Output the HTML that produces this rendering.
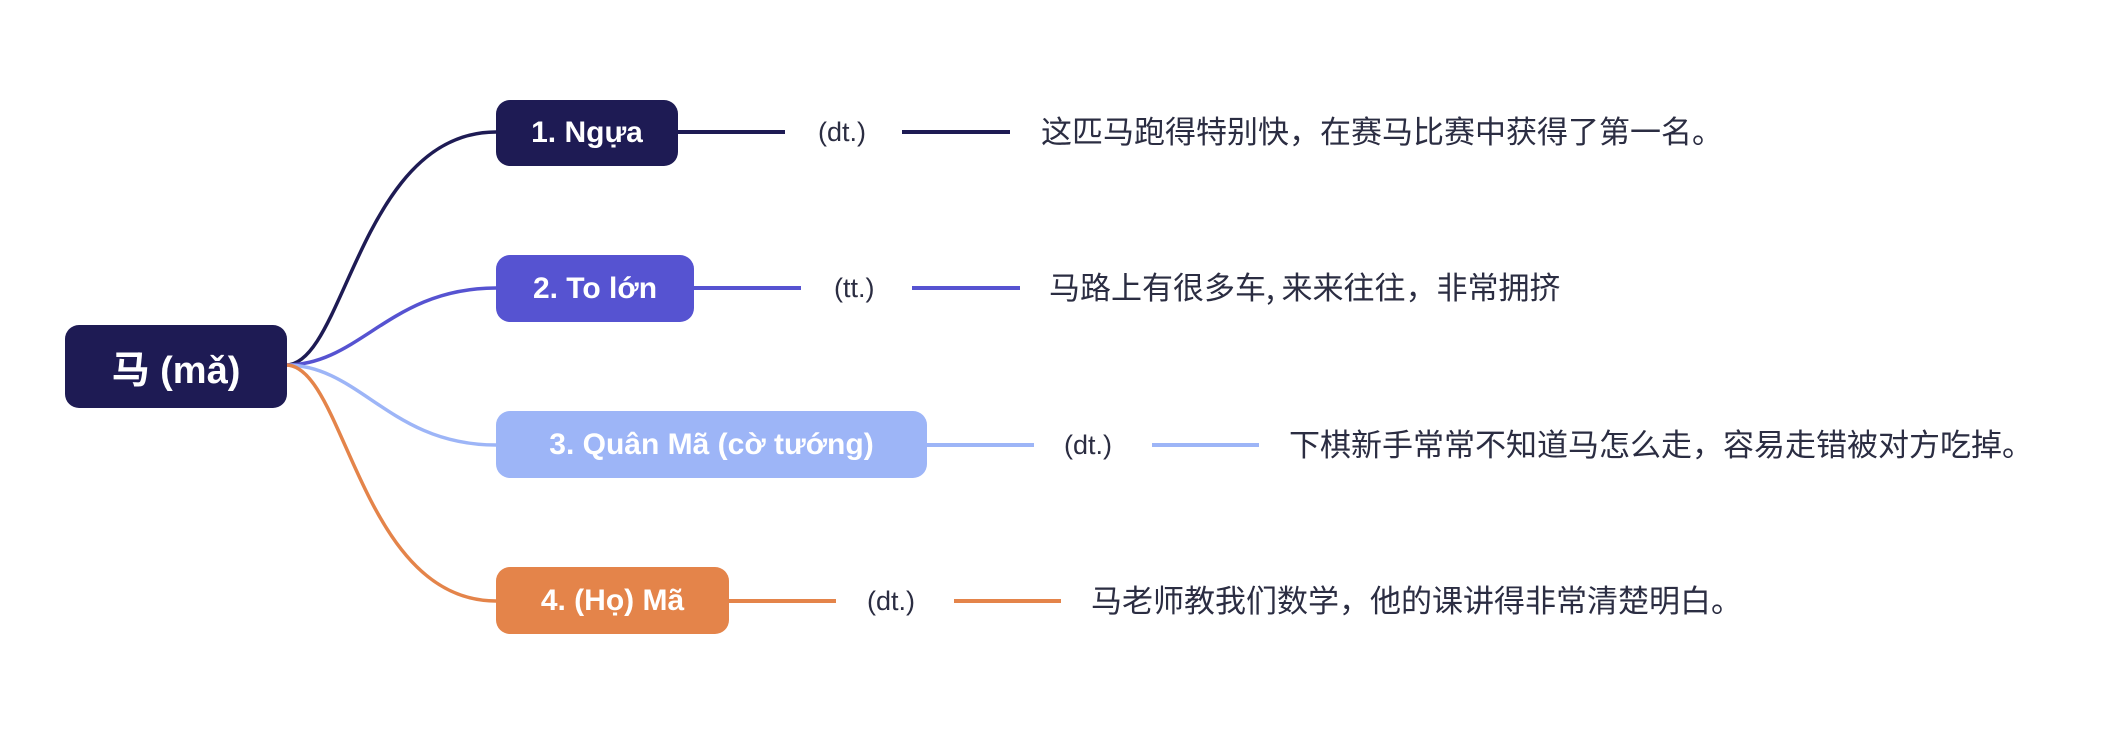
<!DOCTYPE html>
<html><head><meta charset="utf-8"><style>
html,body{margin:0;padding:0;background:#fff;width:2112px;height:745px;overflow:hidden}
.n{position:absolute;border-radius:14px;color:#fff;font-family:"Liberation Sans","Noto Sans CJK SC",sans-serif;font-weight:bold;display:flex;align-items:center;justify-content:center;box-sizing:border-box}
.t{position:absolute;font-family:"Liberation Sans","Noto Sans CJK SC",sans-serif;color:#2b2d42;white-space:nowrap;line-height:1}
.c{font-size:31px;font-family:"Noto Sans CJK SC",sans-serif}
.l{position:absolute;height:4px}
</style></head><body>
<svg width="2112" height="745" style="position:absolute;left:0;top:0" fill="none" stroke-width="3.5">
<path d="M286 365 C345 365 360 132 496 132" stroke="#1e1b54"/>
<path d="M286 365 C360 365 390 288 496 288" stroke="#5653d1"/>
<path d="M286 365 C360 365 390 445 496 445" stroke="#9db5f7"/>
<path d="M286 365 C345 365 360 601 496 601" stroke="#e4844a"/>
</svg>
<div class="n" style="left:65px;top:325px;width:222px;height:83px;background:#1e1b54;font-size:38px">马 (mǎ)</div>

<div class="n" style="left:496px;top:100px;width:182px;height:66px;background:#1e1b54;font-size:30px">1. Ngựa</div>
<div class="l" style="left:678px;top:130px;width:107px;background:#1e1b54"></div>
<div class="t" style="left:818px;top:119px;font-size:27px">(dt.)</div>
<div class="l" style="left:902px;top:130px;width:108px;background:#1e1b54"></div>
<div class="t c" style="left:1041px;top:114px">这匹马跑得特别快，在赛马比赛中获得了第一名。</div>

<div class="n" style="left:496px;top:255px;width:198px;height:67px;background:#5653d1;font-size:30px">2. To lớn</div>
<div class="l" style="left:694px;top:286px;width:107px;background:#5653d1"></div>
<div class="t" style="left:834px;top:275px;font-size:27px">(tt.)</div>
<div class="l" style="left:912px;top:286px;width:108px;background:#5653d1"></div>
<div class="t c" style="left:1049px;top:270px">马路上有很多车, 来来往往，非常拥挤</div>

<div class="n" style="left:496px;top:411px;width:431px;height:67px;background:#9db5f7;font-size:30px">3. Quân Mã (cờ tướng)</div>
<div class="l" style="left:927px;top:443px;width:107px;background:#9db5f7"></div>
<div class="t" style="left:1064px;top:432px;font-size:27px">(dt.)</div>
<div class="l" style="left:1152px;top:443px;width:107px;background:#9db5f7"></div>
<div class="t c" style="left:1289px;top:427px">下棋新手常常不知道马怎么走，容易走错被对方吃掉。</div>

<div class="n" style="left:496px;top:567px;width:233px;height:67px;background:#e4844a;font-size:30px">4. (Họ) Mã</div>
<div class="l" style="left:729px;top:599px;width:107px;background:#e4844a"></div>
<div class="t" style="left:867px;top:588px;font-size:27px">(dt.)</div>
<div class="l" style="left:954px;top:599px;width:107px;background:#e4844a"></div>
<div class="t c" style="left:1091px;top:583px">马老师教我们数学，他的课讲得非常清楚明白。</div>
</body></html>
